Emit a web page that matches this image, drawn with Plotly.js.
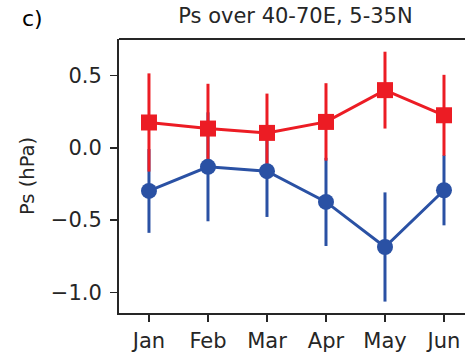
<!DOCTYPE html>
<html>
<head>
<meta charset="utf-8">
<script src="https://cdn.plot.ly/plotly-3.0.1.min.js"></script>
<style>
  html, body { margin: 0; padding: 0; background: #fff; }
  #chart { width: 465px; height: 357px; }
</style>
</head>
<body>
<div id="chart"></div>
<script>
// Monthly surface-pressure anomalies with spread, two composites
const months = ['Jan', 'Feb', 'Mar', 'Apr', 'May', 'Jun'];

const redMean = [0.176, 0.134, 0.104, 0.180, 0.400, 0.226];
const redErr  = [0.340, 0.310, 0.272, 0.268, 0.266, 0.280];

const blueMean = [-0.298, -0.131, -0.161, -0.374, -0.686, -0.293];
const blueErr  = [0.290, 0.377, 0.317, 0.305, 0.378, 0.243];

const yTicks = [-1.0, -0.5, 0.0, 0.5];
const yTickText = ['\u22121.0', '\u22120.5', '0.0', '0.5'];

const RED = '#ec1c24';
const BLUE = '#2a51a4';
const INK = '#262626';

const xIdx = months.map((m, i) => i);

const traces = [
  // blue spread bars underneath
  {
    x: xIdx, y: blueMean, type: 'scatter', mode: 'markers',
    marker: { size: 0.1, color: BLUE, opacity: 0 },
    error_y: { type: 'data', array: blueErr, visible: true, color: BLUE, thickness: 3, width: 0 },
    hoverinfo: 'skip', showlegend: false
  },
  // red series with its bars
  {
    x: xIdx, y: redMean, type: 'scatter', mode: 'lines+markers',
    line: { color: RED, width: 3 },
    marker: { symbol: 'square', size: 16, color: RED },
    error_y: { type: 'data', array: redErr, visible: true, color: RED, thickness: 3, width: 0 },
    showlegend: false
  },
  // blue line and markers on top
  {
    x: xIdx, y: blueMean, type: 'scatter', mode: 'lines+markers',
    line: { color: BLUE, width: 3 },
    marker: { symbol: 'circle', size: 16, color: BLUE },
    showlegend: false
  }
];

const layout = {
  width: 465, height: 357,
  margin: { l: 119, r: 0, t: 39, b: 44, pad: 0 },
  paper_bgcolor: '#fff', plot_bgcolor: '#fff',
  font: { family: 'DejaVu Sans', color: INK, size: 21 },
  title: {
    text: 'Ps over 40-70E, 5-35N',
    font: { family: 'DejaVu Sans', size: 21, color: INK },
    x: 0.51, xanchor: 'center', y: 0.955, yanchor: 'middle', xref: 'paper', yref: 'container'
  },
  xaxis: {
    range: [-0.508, 5.356],
    tickvals: xIdx, ticktext: months,
    showgrid: false, zeroline: false,
    showline: true, linecolor: INK, linewidth: 2,
    ticks: 'outside', ticklen: 7, tickwidth: 1.5, tickcolor: INK,
    tickfont: { family: 'DejaVu Sans', size: 21, color: INK },
    ticklabelstandoff: 1
  },
  yaxis: {
    range: [-1.143, 0.754],
    tickvals: yTicks, ticktext: yTickText,
    showgrid: false, zeroline: false,
    showline: true, linecolor: INK, linewidth: 2,
    ticks: 'outside', ticklen: 7, tickwidth: 1.5, tickcolor: INK,
    tickfont: { family: 'DejaVu Sans', size: 21, color: INK },
    ticklabelstandoff: 4,
    title: { text: 'Ps (hPa)', font: { family: 'DejaVu Sans', size: 19.5, color: INK }, standoff: 11 }
  },
  shapes: [
    // top frame line
    { type: 'line', xref: 'paper', yref: 'paper', x0: 0, x1: 1, y0: 1, y1: 1,
      line: { color: INK, width: 2 } }
  ],
  annotations: [
    { text: 'c)', xref: 'paper', yref: 'paper', x: -0.251, y: 1.075,
      xanchor: 'center', yanchor: 'middle', showarrow: false,
      font: { family: 'DejaVu Sans', size: 22, color: '#000' } }
  ]
};

Plotly.newPlot('chart', traces, layout, { displayModeBar: false, staticPlot: true });
</script>
</body>
</html>
